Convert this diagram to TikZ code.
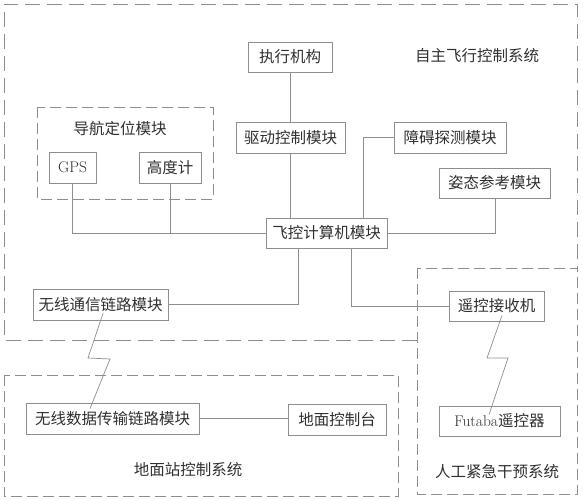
\documentclass[tikz,border=0pt]{standalone}
\usepackage{fontspec}
\newfontfamily\cjk{Noto Sans CJK SC}
\definecolor{linegray}{HTML}{8E8E8E}
\definecolor{textgray}{HTML}{303030}
\begin{document}
\begin{tikzpicture}[x=1pt,y=-1pt,
  box/.style={draw=linegray, line width=0.8pt, fill=white, inner sep=0pt,
    font=\cjk\fontsize{15.5}{17}\selectfont, text=textgray},
  lbl/.style={inner sep=0pt, font=\cjk\fontsize{15.5}{17}\selectfont, text=textgray},
  conn/.style={draw=linegray, line width=0.7pt},
  bolt/.style={draw=linegray, line width=0.7pt},
  bigdash/.style={draw=linegray, line width=0.8pt, dash pattern=on 15pt off 7pt},
  smalldash/.style={draw=linegray, line width=0.8pt, dash pattern=on 11pt off 5pt}]
\fill[white] (0,0) rectangle (583,500);
\useasboundingbox (0,0) rectangle (583,500);

% dashed system frames
\draw[bigdash] (417,340) -- (4,340) -- (4,4) -- (577,4) -- (577,268);
\draw[smalldash] (417,268) rectangle (577,494);
\draw[smalldash] (4,375) rectangle (398,496);
\draw[smalldash] (37,107) rectangle (213,199);

% boxes
\node[box, minimum width=84pt, minimum height=30pt] (act) at (290,57) {执行机构};
\node[box, minimum width=109pt, minimum height=31pt] (drv) at (290.5,137.5) {驱动控制模块};
\node[box, minimum width=112pt, minimum height=31pt] (obs) at (450,137.5) {障碍探测模块};
\node[box, minimum width=111pt, minimum height=30pt] (att) at (494.5,183) {姿态参考模块};
\node[box, minimum width=121pt, minimum height=30pt] (fcc) at (326.5,233) {飞控计算机模块};
\node[box, minimum width=47pt, minimum height=31pt, font=\rmfamily\fontsize{15.5}{17}\selectfont] (gps) at (72.5,167.5) {GPS};
\node[box, minimum width=62pt, minimum height=31pt] (alt) at (170,167.5) {高度计};
\node[box, minimum width=135pt, minimum height=31pt] (wcl) at (100.5,304.5) {无线通信链路模块};
\node[box, minimum width=95pt, minimum height=30pt] (rcv) at (496.5,306) {遥控接收机};
\node[box, minimum width=173pt, minimum height=31pt] (wdt) at (112.5,418.5) {无线数据传输链路模块};
\node[box, minimum width=98pt, minimum height=31pt] (gct) at (337,420) {地面控制台};
\node[box, minimum width=121pt, minimum height=30pt] (fut) at (499.5,421) {{\rmfamily Futaba}遥控器};

% labels
\node[lbl] (t1) at (477,56) {自主飞行控制系统};
\node[lbl] (t2) at (120,129) {导航定位模块};
\node[lbl] (t3) at (188,470) {地面站控制系统};
\node[lbl] (t4) at (497,472) {人工紧急干预系统};

% connectors
\draw[conn] (act.south) -- (act.south |- drv.north);
\draw[conn] (drv.south) -- (drv.south |- fcc.north);
\draw[conn] (obs.west) -| ([xshift=36.5pt]fcc.north);
\draw[conn] (gps.south) |- (fcc.west);
\draw[conn] (alt.south) -- (alt.south |- fcc.west);
\draw[conn] ([xshift=0.5pt]att.south) |- (fcc.east);
\draw[conn] ([xshift=-28.5pt]fcc.south) |- (wcl.east);
\draw[conn] ([xshift=24.5pt]fcc.south) |- (rcv.west);
\draw[conn] (wdt.east) -- (wdt.east -| gct.west);

% wireless links
\draw[bolt] ([shift={(2.5pt,7pt)}]wcl.south) -- (88,358) -- (110,359) -- ([shift={(-22.5pt,-6pt)}]wdt.north);
\draw[bolt] ([shift={(5.5pt,6pt)}]rcv.south) -- (487,358) -- (508,358) -- ([shift={(-10.5pt,-9pt)}]fut.north);
\end{tikzpicture}
\end{document}
